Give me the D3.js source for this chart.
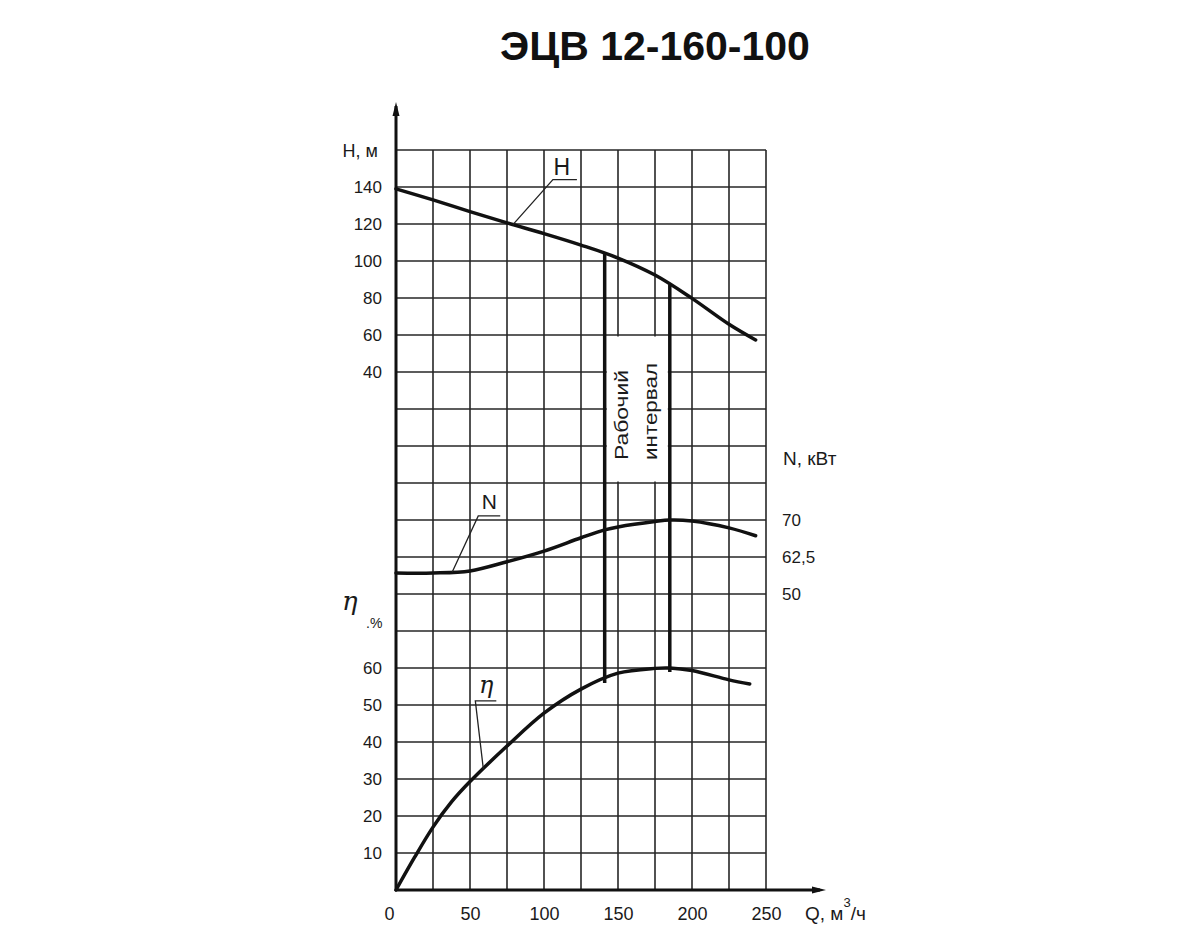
<!DOCTYPE html>
<html>
<head>
<meta charset="utf-8">
<script src="https://cdn.jsdelivr.net/npm/d3@7"></script>
<style>
body { margin: 0; background: #fff; }
text { font-family: "Liberation Sans", Arial, sans-serif; fill: #1a1a1a; }
</style>
</head>
<body>
<svg id="chart" width="1200" height="950"></svg>
<script>
// tick labels
var qTicks = [0, 50, 100, 150, 200, 250];
var hTicks = [140, 120, 100, 80, 60, 40];
var nTicks = [70, 62.5, 50];
var etaTicks = [60, 50, 40, 30, 20, 10];

// head curve H(Q), m
var hQ = [0, 25, 50, 75, 100, 125, 150, 175, 200, 225, 243];
var hVal = [139, 133, 126.7, 120.6, 114.8, 108.6, 101.6, 92.4, 79.8, 65.8, 57.3];
// power curve N(Q), kW
var nQ = [0, 25, 50, 75, 100, 125, 141, 150, 175, 185, 200, 225, 243];
var nVal = [57.1, 57.1, 57.8, 60.9, 63.7, 66.4, 68, 68.6, 69.7, 70, 69.8, 68.4, 66.8];
// efficiency curve eta(Q), %
var etaQ = [0, 12.5, 25, 37.5, 50, 75, 100, 125, 150, 175, 185, 200, 225, 239];
var etaVal = [0, 8.8, 17, 23.8, 29.3, 38.9, 47.8, 54.3, 58.6, 59.9, 60, 59.3, 56.8, 55.7];

// working interval, Q
var intervalQ = [141, 185];
var intervalText = ["Рабочий", "интервал"];

// margins
var margin = { top: 150, left: 396 },
    cell = 37,
    width = cell * 10,
    height = cell * 20;

var root = d3.select('#chart');
var svg = root.append('g')
    .attr('transform', 'translate(' + margin.left + ',' + margin.top + ')');

// scales
var x = d3.scaleLinear().domain([0, 250]).range([0, width]);
var yH = d3.scaleLinear().domain([40, 160]).range([cell * 6, 0]);
// the N labels are not evenly spaced in the original, so piecewise
var yN = d3.scaleLinear().domain([50, 62.5, 70]).range([cell * 12, cell * 11, cell * 10]);
var yE = d3.scaleLinear().domain([0, 60]).range([height, cell * 14]);
var row = d3.scaleLinear().domain([0, 20]).range([0, height]);

// linear lookups on the data, for leaders and interval lines
var hAt = d3.scaleLinear().domain(hQ).range(hVal);
var nAt = d3.scaleLinear().domain(nQ).range(nVal);
var eAt = d3.scaleLinear().domain(etaQ).range(etaVal);

// title
root.append('text')
    .attr('x', 655).attr('y', 60)
    .attr('text-anchor', 'middle')
    .style('font-size', '41px').style('font-weight', 'bold')
    .style('fill', '#111')
    .text('ЭЦВ 12-160-100');

// grid
var grid = svg.append('g').attr('stroke', '#262626').attr('stroke-width', 1.6);
grid.selectAll('line.h').data(d3.range(0, 20)).enter().append('line')
    .attr('x1', 0).attr('x2', width)
    .attr('y1', function(d){ return row(d); })
    .attr('y2', function(d){ return row(d); });
grid.selectAll('line.v').data(d3.range(25, 251, 25)).enter().append('line')
    .attr('y1', 0).attr('y2', height)
    .attr('x1', function(d){ return x(d); })
    .attr('x2', function(d){ return x(d); });

// white box behind the interval text
svg.append('rect')
    .attr('x', x(intervalQ[0]) + 2)
    .attr('width', x(intervalQ[1]) - x(intervalQ[0]) - 4)
    .attr('y', row(5) + 1.5)
    .attr('height', row(9) - row(5) - 3)
    .attr('fill', '#fff');

// axes lines with arrows
svg.append('line').attr('x1', 0).attr('x2', 0).attr('y1', height + 1).attr('y2', -44)
    .attr('stroke', '#111').attr('stroke-width', 3);
svg.append('path').attr('d', 'M0,-48 L-3.5,-34 L3.5,-34 Z').attr('fill', '#111');
svg.append('line').attr('x1', -1).attr('x2', 424).attr('y1', height).attr('y2', height)
    .attr('stroke', '#111').attr('stroke-width', 3);
svg.append('path').attr('d', 'M430,' + height + ' L416,' + (height - 3.5) + ' L416,' + (height + 3.5) + ' Z')
    .attr('fill', '#111');

// tick labels
function styleAxis(g, size) {
  g.select('.domain').remove();
  g.attr('font-family', null).attr('font-size', null);
  g.selectAll('text').style('font-size', size + 'px').style('fill', '#1a1a1a');
}
svg.append('g')
    .call(d3.axisLeft(yH).tickValues(hTicks).tickSize(0).tickPadding(14))
    .call(styleAxis, 17);
svg.append('g')
    .call(d3.axisLeft(yE).tickValues(etaTicks).tickSize(0).tickPadding(14))
    .call(styleAxis, 17);
svg.append('g')
    .attr('transform', 'translate(' + width + ',0)')
    .call(d3.axisRight(yN).tickValues(nTicks).tickSize(0).tickPadding(16)
      .tickFormat(function(d){ return String(d).replace('.', ','); }))
    .call(styleAxis, 17);
var xg = svg.append('g')
    .attr('transform', 'translate(0,' + height + ')')
    .call(d3.axisBottom(x).tickValues(qTicks).tickSize(0).tickPadding(17))
    .call(styleAxis, 18);
xg.selectAll('text').filter(function(d){ return d === 0; }).attr('x', -7);

// axis titles
svg.append('text').attr('x', -18).attr('y', 7).attr('text-anchor', 'end')
    .style('font-size', '18px').text('H, м');
svg.append('text').attr('x', 387).attr('y', 315)
    .style('font-size', '19px').text('N, кВт');
svg.append('text').attr('x', -54).attr('y', 460)
    .style('font-family', '"DejaVu Serif", serif').style('font-style', 'italic')
    .style('font-size', '26px').text('η');
svg.append('text').attr('x', -30).attr('y', 478)
    .style('font-size', '14px').text('.%');
var qt = svg.append('text').attr('x', 409).attr('y', 770).style('font-size', '19px');
qt.append('tspan').text('Q, м');
qt.append('tspan').attr('dy', -13).style('font-size', '13px').text('3');
qt.append('tspan').attr('dy', 13).text('/ч');

// curves
var line = d3.line()
    .x(function(d){ return x(d.q); })
    .y(function(d){ return d.y; })
    .curve(d3.curveCatmullRom.alpha(0.5));
var curves = [
  { q: hQ, v: hVal, s: yH },
  { q: nQ, v: nVal, s: yN },
  { q: etaQ, v: etaVal, s: yE }
];
svg.selectAll('path.curve').data(curves).enter().append('path')
    .attr('class', 'curve')
    .attr('d', function(c){
      return line(c.q.map(function(q, i){ return { q: q, y: c.s(c.v[i]) }; }));
    })
    .attr('fill', 'none').attr('stroke', '#111').attr('stroke-width', 3.5)
    .attr('stroke-linecap', 'round');

// working interval lines, from H curve down to eta curve
svg.selectAll('line.interval').data(intervalQ).enter().append('line')
    .attr('x1', function(d){ return x(d); })
    .attr('x2', function(d){ return x(d); })
    .attr('y1', function(d){ return yH(hAt(d)); })
    .attr('y2', function(d){ return yE(eAt(d)) + 4; })
    .attr('stroke', '#111').attr('stroke-width', 3.5);

// interval text, rotated
var textBase = [232, 261];
svg.selectAll('text.interval').data(intervalText).enter().append('text')
    .attr('transform', function(d, i){ return 'translate(' + textBase[i] + ',' + 310 + ') rotate(-90)'; })
    .attr('textLength', function(d, i){ return i === 0 ? 90 : 97; })
    .attr('lengthAdjust', 'spacingAndGlyphs')
    .style('font-size', '19px')
    .text(function(d){ return d; });

// leader labels
var leaders = [
  { name: 'H', q: 79, y: function(q){ return yH(hAt(q)); }, dx: 40, dy: -45, len: 24, tx: 9, ty: -5, serif: false, size: 23 },
  { name: 'N', q: 38, y: function(q){ return yN(nAt(q)); }, dx: 26, dy: -56, len: 22, tx: 11, ty: -7, serif: false, size: 21 },
  { name: 'η', q: 59, y: function(q){ return yE(eAt(q)); }, dx: -8, dy: -68, len: 21, tx: 11, ty: -8, serif: true, size: 24 }
];
var lg = svg.selectAll('g.leader').data(leaders).enter().append('g').attr('class', 'leader');
lg.append('path')
    .attr('d', function(d){
      var ax = x(d.q), ay = d.y(d.q);
      var ex = ax + d.dx, ey = ay + d.dy;
      return 'M' + ax + ',' + ay + ' L' + ex + ',' + ey + ' L' + (ex + d.len) + ',' + ey;
    })
    .attr('fill', 'none').attr('stroke', '#222').attr('stroke-width', 1.3);
lg.append('text')
    .attr('x', function(d){ return x(d.q) + d.dx + d.tx; })
    .attr('y', function(d){ return d.y(d.q) + d.dy + d.ty; })
    .attr('text-anchor', 'middle')
    .style('font-size', function(d){ return d.size + 'px'; })
    .style('font-family', function(d){ return d.serif ? '"DejaVu Serif", serif' : null; })
    .style('font-style', function(d){ return d.serif ? 'italic' : null; })
    .text(function(d){ return d.name; });
</script>
</body>
</html>
